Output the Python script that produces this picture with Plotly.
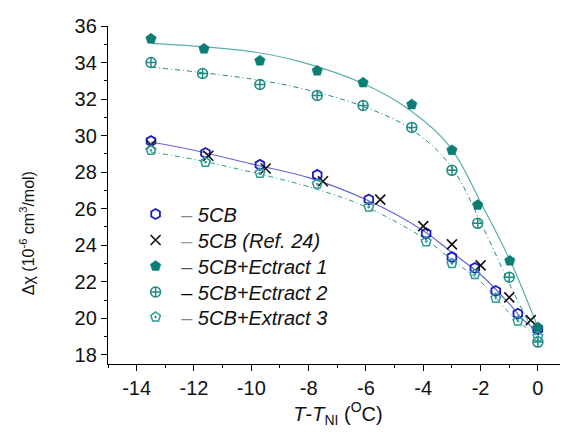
import plotly.graph_objects as go

# ---- data ----
x_5cb = [-13.5, -11.6, -9.7, -7.7, -5.9, -3.9, -3.0, -2.2, -1.47, -0.7, 0.0]
y_5cb = [29.7, 29.05, 28.4, 27.85, 26.5, 24.65, 23.35, 22.75, 21.5, 20.25, 19.4]

x_ref = [-13.5, -11.5, -9.5, -7.5, -5.5, -4.0, -3.0, -2.0, -1.0, -0.25]
y_ref = [29.5, 28.9, 28.2, 27.5, 26.5, 25.05, 24.05, 22.9, 21.15, 19.9]

x_e1 = [-13.5, -11.65, -9.7, -7.7, -6.1, -4.4, -3.0, -2.1, -0.98, 0.0]
y_e1 = [35.3, 34.75, 34.1, 33.55, 32.9, 31.7, 29.2, 26.2, 23.15, 19.5]

x_e2 = [-13.5, -11.7, -9.7, -7.7, -6.1, -4.4, -3.0, -2.1, -1.0, 0.0]
y_e2 = [34.0, 33.4, 32.8, 32.2, 31.65, 30.45, 28.1, 25.2, 22.25, 18.7]

x_e3 = [-13.5, -11.6, -9.7, -7.7, -5.9, -3.9, -3.0, -2.2, -1.47, -0.7, 0.0]
y_e3 = [29.2, 28.55, 27.95, 27.35, 26.1, 24.2, 23.0, 22.4, 21.1, 19.85, 19.0]

# fitted curves
fx_5cb = [-13.5, -12, -10, -8, -6, -4, -3, -2, -1, -0.5, 0]
fy_5cb = [29.65, 29.2, 28.45, 27.7, 26.5, 24.8, 23.6, 22.4, 20.8, 19.9, 19.3]

fx_e1 = [-13.5, -12, -10, -8.3, -6.1, -4.47, -3.07, -1.92, -0.98, 0]
fy_e1 = [35.05, 34.9, 34.6, 34.05, 32.85, 31.4, 29.4, 26.1, 23.2, 19.5]

fx_e2 = [-13.5, -12, -10, -8.3, -6.1, -4.47, -3.07, -1.92, -1, 0]
fy_e2 = [33.75, 33.5, 33.1, 32.6, 31.6, 30.4, 28.4, 25.0, 21.9, 18.8]

fx_e3 = [-13.5, -12, -10, -8, -6, -4, -3, -2, -1, -0.5, 0]
fy_e3 = [29.1, 28.7, 28.0, 27.2, 26.1, 24.4, 23.2, 22.0, 20.3, 19.6, 19.0]

x_ticks = [-14, -12, -10, -8, -6, -4, -2, 0]
y_ticks = [18, 20, 22, 24, 26, 28, 30, 32, 34, 36]

FONT = "Liberation Sans, Arial, sans-serif"
BLUE = "#1c1cc8"
BLUE_L = "#6464d8"
TEAL = "#0b7d75"
TEAL2 = "#1f8a84"
TEAL3 = "#2a9a92"
TEAL_L = "#5aafa8"

fig = go.Figure()

# fit curves (no legend)
fig.add_trace(go.Scatter(x=fx_5cb, y=fy_5cb, mode="lines", line=dict(color=BLUE_L, width=1.2, shape="spline"), showlegend=False))
fig.add_trace(go.Scatter(x=fx_e1, y=fy_e1, mode="lines", line=dict(color=TEAL_L, width=1.2, shape="spline"), showlegend=False))
fig.add_trace(go.Scatter(x=fx_e2, y=fy_e2, mode="lines", line=dict(color=TEAL2, width=1, shape="spline", dash="5px,3px,1px,3px"), showlegend=False))
fig.add_trace(go.Scatter(x=fx_e3, y=fy_e3, mode="lines", line=dict(color=TEAL3, width=1, shape="spline", dash="5px,3px,1px,3px"), showlegend=False))

def nm(dash_color, label):
    return f'&nbsp;<span style="color:{dash_color}">–</span>&nbsp;<i>{label}</i>'

fig.add_trace(go.Scatter(x=x_5cb, y=y_5cb, mode="markers", name=nm("#888888", "5CB"), legend="legend",
                         marker=dict(symbol="hexagon-open", size=10, color=BLUE, line=dict(width=1.8, color=BLUE))))
fig.add_trace(go.Scatter(x=x_ref, y=y_ref, mode="markers", name=nm("#999999", "5CB (Ref. 24)"), legend="legend2",
                         marker=dict(symbol="x-thin-open", size=10, color="#111111", line=dict(width=1.6, color="#111111"))))
fig.add_trace(go.Scatter(x=x_e1, y=y_e1, mode="markers", name=nm("#555555", "5CB+Ectract 1"), legend="legend3",
                         marker=dict(symbol="pentagon", size=11, color=TEAL, line=dict(width=0.5, color=TEAL))))
fig.add_trace(go.Scatter(x=x_e2, y=y_e2, mode="markers", name=nm("#000000", "5CB+Ectract 2"), legend="legend4",
                         marker=dict(symbol="circle-cross-open", size=10, color=TEAL2, line=dict(width=1.5, color=TEAL2))))
fig.add_trace(go.Scatter(x=x_e3, y=y_e3, mode="markers", name=nm("#888888", "5CB+Extract 3"), legend="legend5",
                         marker=dict(symbol="pentagon-open-dot", size=10, color=TEAL3, line=dict(width=1.5, color=TEAL3))))

axis_common = dict(showgrid=False, zeroline=False, showline=True, linecolor="#000", linewidth=1.3,
                   ticks="outside", ticklen=6, tickwidth=1.2, tickcolor="#000",
                   tickfont=dict(family=FONT, size=20, color="#111"), mirror=False)

fig.update_xaxes(range=[-15, 1.05], tickvals=x_ticks, ticktext=[str(v) for v in x_ticks],
                 minor=dict(ticks="outside", ticklen=3, tickwidth=1, tickcolor="#000", dtick=1, tick0=0),
                 title=dict(text="<i>T</i>-<i>T</i><sub>NI</sub> (<sup>O</sup>C)", font=dict(family=FONT, size=20, color="#111"), standoff=5),
                 **axis_common)
fig.update_yaxes(range=[17.5, 36], tickvals=y_ticks, ticktext=[str(v) for v in y_ticks],
                 minor=dict(ticks="outside", ticklen=3, tickwidth=1, tickcolor="#000", dtick=1, tick0=0),
                 **axis_common)

fig.add_annotation(text="Δχ (10<sup>-6</sup> cm<sup>3</sup>/mol)", textangle=-90,
                   xref="paper", yref="paper", x=-0.176, y=0.387, xanchor="center", yanchor="middle",
                   showarrow=False, font=dict(family=FONT, size=16, color="#111"))

# plot area spans page px x 108..568, y 26..364 (page has an 8px body margin)
row_centers = [214, 240, 266, 292, 317]
legends = {}
for i, yc in enumerate(row_centers):
    key = "legend" if i == 0 else f"legend{i+1}"
    legends[key] = dict(x=0.06, y=(364 - yc) / 338, xanchor="left", yanchor="middle",
                        bgcolor="rgba(0,0,0,0)", font=dict(family=FONT, size=20, color="#111"),
                        itemwidth=30)

fig.update_layout(
    width=560, height=430,
    margin=dict(l=100, r=0, t=18, b=74),
    paper_bgcolor="white", plot_bgcolor="white",
    **legends,
)

fig.write_html("out.html")
